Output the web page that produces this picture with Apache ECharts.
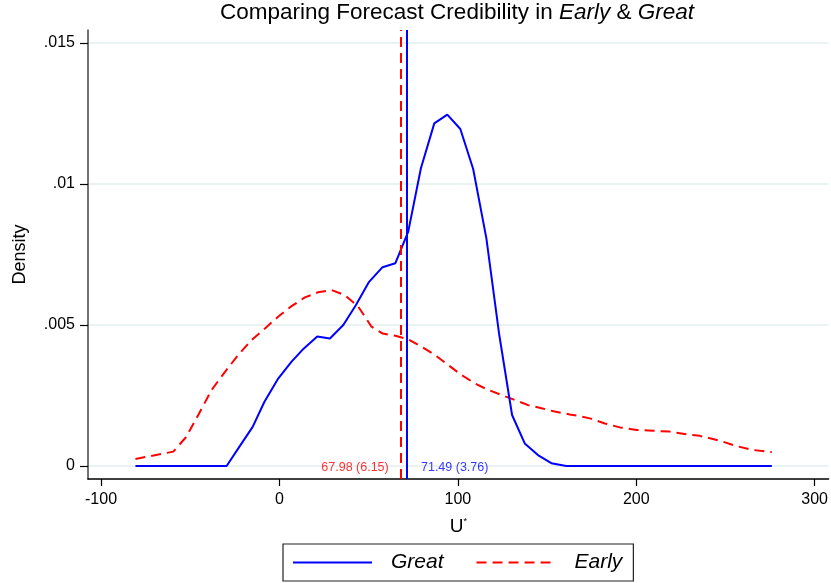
<!DOCTYPE html>
<html><head><meta charset="utf-8">
<script src="https://cdn.jsdelivr.net/npm/echarts@6/dist/echarts.min.js"></script>
<style>html,body{margin:0;padding:0;background:#fff}#c{width:831px;height:583px}</style>
</head><body><div id="c"></div>
<script>
// Great (blue, solid) density
var greatX = [-80.7, -29.6, -22.5, -15, -8.4, -0.6, 6.8, 13.7, 21.2, 28.3, 35.8, 42.9, 50, 57.8, 65, 72.2, 79.3, 86.8, 94.1, 101.4, 108.6, 116, 123.1, 130.4, 137.5, 144.9, 152.4, 160.8, 276];
var greatY = [0, 0, 0.00068, 0.00139, 0.00228, 0.00311, 0.0037, 0.00417, 0.00459, 0.00452, 0.005, 0.00571, 0.00651, 0.00705, 0.00719, 0.00831, 0.01056, 0.01215, 0.01246, 0.01195, 0.01053, 0.00807, 0.0047, 0.00181, 0.0008, 0.00039, 0.0001, 0, 0];
// Early (red, dashed) density
var earlyX = [-80.7, -59.5, -52.4, -45.5, -38, -30.5, -23.1, -15.6, -8.1, -0.6, 6.8, 14.3, 21.7, 29.2, 36.7, 44.2, 51.6, 57.8, 65, 72.2, 79.6, 87.1, 94.6, 102, 109.5, 117, 124.5, 132, 139.4, 146.9, 154.3, 162.7, 168.3, 174, 182.4, 190.8, 200.2, 209.4, 218.8, 228, 235.6, 246.8, 256, 265.4, 276];
var earlyY = [0.00025, 0.00051, 0.00102, 0.00181, 0.0027, 0.00334, 0.00394, 0.00447, 0.00488, 0.0053, 0.00567, 0.00598, 0.00616, 0.00624, 0.00606, 0.00565, 0.00494, 0.0047, 0.00462, 0.00449, 0.00423, 0.00394, 0.00358, 0.00323, 0.00293, 0.0027, 0.00252, 0.00234, 0.00216, 0.00205, 0.00193, 0.00183, 0.00177, 0.00169, 0.00151, 0.00137, 0.00128, 0.00125, 0.00122, 0.00113, 0.00107, 0.0009, 0.00071, 0.00057, 0.00049];
// Means (std. errors)
var greatMean = 71.49, greatSE = 3.76;
var earlyMean = 67.98, earlySE = 6.15;
// Ticks
var xTicks = [-100, 0, 100, 200, 300];
var yTicks = [0, 0.005, 0.01, 0.015];
var yTickLabels = ['0', '.005', '.01', '.015'];

function pairs(xs, ys) { return xs.map(function (x, i) { return [x, ys[i]]; }); }

var FONT = 'Liberation Sans';
var chart = echarts.init(document.getElementById('c'), null, { renderer: 'canvas' });
chart.setOption({
  animation: false,
  backgroundColor: '#fff',
  title: {
    text: 'Comparing Forecast Credibility in {i|Early} & {i|Great}',
    left: 457, top: 1, textAlign: 'center', padding: 0,
    textStyle: { fontFamily: FONT, fontSize: 22.5, fontWeight: 'normal', color: '#000',
      rich: { i: { fontFamily: FONT, fontSize: 22.5, fontStyle: 'italic', color: '#000' } } }
  },
  grid: { left: 88, right: 2, top: 30, bottom: 104 },
  legend: {
    data: ['Great', 'Early'],
    left: 283, top: 544, width: 349,
    padding: [8, 11, 8, 9],
    borderColor: '#222', borderWidth: 1.2,
    itemWidth: 79, itemHeight: 14, itemGap: 32,
    itemStyle: { opacity: 0 },
    textStyle: { fontFamily: FONT, fontSize: 21, fontStyle: 'italic', color: '#000', padding: [0, 0, 0, 14] }
  },
  xAxis: {
    type: 'value', min: -107.3, max: 307.8,
    name: 'U{s|*}', nameLocation: 'middle', nameGap: 38,
    nameTextStyle: { fontFamily: FONT, fontSize: 19, color: '#000',
      rich: { s: { fontFamily: FONT, fontSize: 9, verticalAlign: 'top', padding: [0, 0, 9, 0], color: '#000' } } },
    axisLine: { show: true, onZero: false, lineStyle: { color: '#000', width: 1.5 } },
    axisTick: { show: true, length: 7, lineStyle: { color: '#000', width: 1.2 }, customValues: xTicks },
    axisLabel: { fontFamily: FONT, fontSize: 16, color: '#000', margin: 13, customValues: xTicks },
    splitLine: { show: false }
  },
  yAxis: {
    type: 'value', min: -0.00046, max: 0.01546,
    name: 'Density', nameLocation: 'middle', nameGap: 59,
    nameTextStyle: { fontFamily: FONT, fontSize: 18, color: '#000' },
    axisLine: { show: true, onZero: false, lineStyle: { color: '#444', width: 1.5 } },
    axisTick: { show: true, length: 8, lineStyle: { color: '#000', width: 1.2 }, customValues: yTicks },
    axisLabel: { fontFamily: FONT, fontSize: 16, color: '#000', margin: 13, customValues: yTicks,
      formatter: function (v) { var i = yTicks.indexOf(v); return i >= 0 ? yTickLabels[i] : ''; } },
    splitLine: { show: true, lineStyle: { color: '#eaf2f3', width: 2 } }
  },
  series: [
    {
      name: 'Great', type: 'line', data: pairs(greatX, greatY), symbol: 'none',
      lineStyle: { color: '#0000ff', width: 2 }, itemStyle: { color: '#0000ff' }, z: 3,
      markLine: {
        silent: true, symbol: 'none', label: { show: false },
        lineStyle: { color: '#0000ff', width: 2, type: 'solid' },
        data: [{ xAxis: greatMean }]
      }
    },
    {
      name: 'Early', type: 'line', data: pairs(earlyX, earlyY), symbol: 'none',
      lineStyle: { color: '#ff0000', width: 2, type: [10, 6] }, itemStyle: { color: '#ff0000' }, z: 2,
      markLine: {
        silent: true, symbol: 'none', label: { show: false },
        lineStyle: { color: '#ff0000', width: 2, type: [10, 6] },
        data: [{ xAxis: earlyMean }]
      }
    },
    {
      type: 'scatter', symbolSize: 0, silent: true, z: 4,
      data: [[earlyMean, 0]],
      label: { show: true, position: 'left', distance: 12, offset: [0, 2], fontFamily: FONT, fontSize: 12.5, color: '#ff0000',
        formatter: function () { return earlyMean.toFixed(2) + ' (' + earlySE.toFixed(2) + ')'; } }
    },
    {
      type: 'scatter', symbolSize: 0, silent: true, z: 4,
      data: [[greatMean, 0]],
      label: { show: true, position: 'right', distance: 14, offset: [0, 2], fontFamily: FONT, fontSize: 12.5, color: '#0000ff',
        formatter: function () { return greatMean.toFixed(2) + ' (' + greatSE.toFixed(2) + ')'; } }
    }
  ]
});
</script></body></html>
